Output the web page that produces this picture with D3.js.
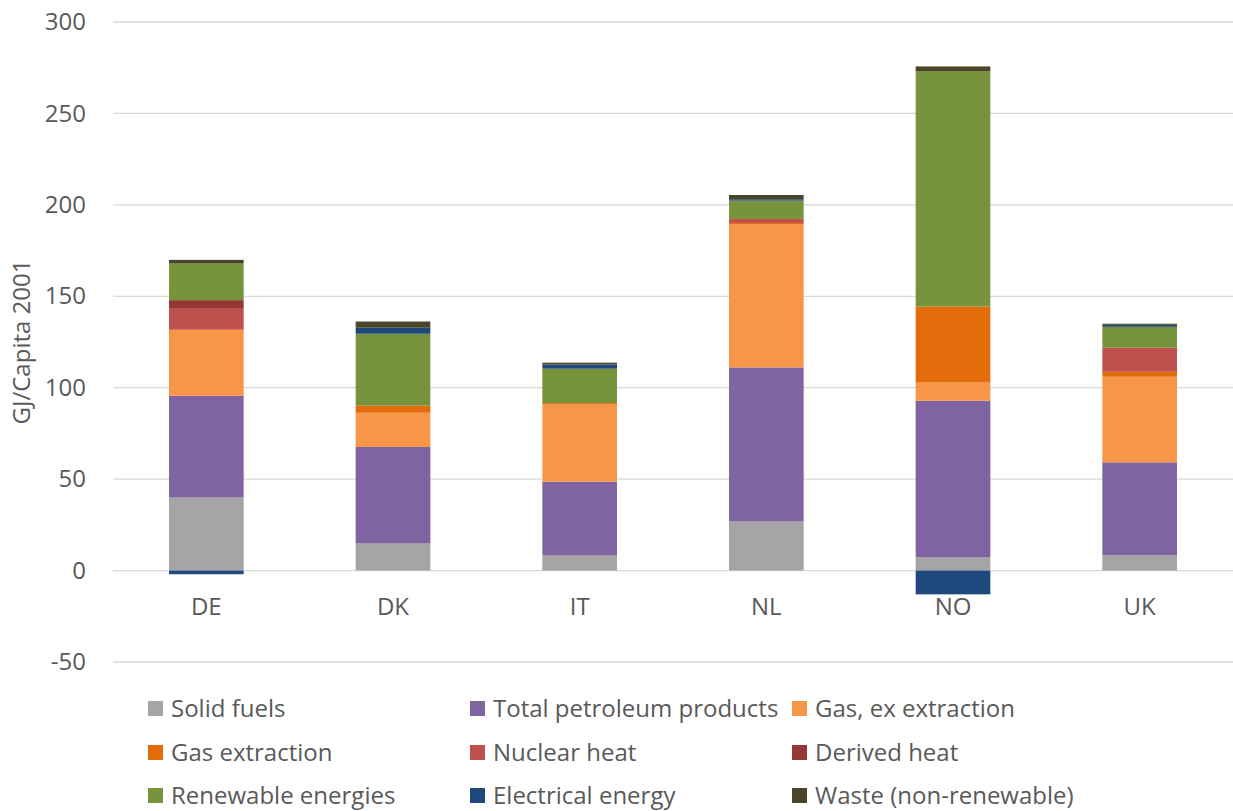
<!DOCTYPE html>
<html>
<head>
<meta charset="utf-8">
<script src="https://cdn.jsdelivr.net/npm/d3@7"></script>
<style>
  html, body { margin: 0; padding: 0; background: #ffffff; }
  svg { display: block; }
  text { font-family: "Open Sans", "Noto Sans", sans-serif; fill: #595959; }
</style>
</head>
<body>
<svg id="chart" width="1233" height="811"></svg>
<script>
// Countries along the x axis
const countries = ["DE", "DK", "IT", "NL", "NO", "UK"];

// Energy carriers, stacked bottom to top
const carriers = [
  "Solid fuels", "Total petroleum products", "Gas, ex extraction",
  "Gas extraction", "Nuclear heat", "Derived heat",
  "Renewable energies", "Electrical energy", "Waste (non-renewable)"
];
const carrierColors = [
  "#A5A5A5", "#8064A2", "#F79646",
  "#E46C0A", "#C0504D", "#953735",
  "#77933C", "#1F497D", "#4A452A"
];

// GJ per capita, 2001 — one array per carrier, in country order
const solidFuels       = [39.9, 14.8,  8.2, 26.8,   7.2,  8.4];
const petroleum        = [55.7, 52.8, 40.4, 84.3,  85.7, 50.8];
const gasExExtraction  = [36.1, 18.7, 42.5, 78.1,   9.9, 46.8];
const gasExtraction    = [ 0.0,  3.9,  0.5,  0.9,  41.6,  2.7];
const nuclearHeat      = [11.5,  0.0,  0.0,  2.2,   0.0, 13.2];
const derivedHeat      = [ 4.7,  0.0,  0.0,  0.0,   0.0,  0.0];
const renewables       = [20.0, 39.3, 18.8, 10.0, 128.8, 11.4];
const electrical       = [-2.0,  3.3,  2.3,  0.8, -13.0,  1.1];
const waste            = [ 2.0,  3.4,  1.0,  2.3,   2.5,  0.6];

const seriesValues = [
  solidFuels, petroleum, gasExExtraction, gasExtraction,
  nuclearHeat, derivedHeat, renewables, electrical, waste
];

const yTicks = [-50, 0, 50, 100, 150, 200, 250, 300];
const yTitle = "GJ/Capita 2001";

// Rows for d3.stack
const rows = countries.map((c, i) => {
  const r = { country: c };
  carriers.forEach((k, j) => { r[k] = seriesValues[j][i]; });
  return r;
});

const svg = d3.select("#chart");
const plot = { left: 113, right: 1233, top: 22, bottom: 662 };

const x = d3.scaleBand()
  .domain(countries)
  .range([plot.left, plot.right])
  .paddingInner(0.6)
  .paddingOuter(0.3);

const y = d3.scaleLinear()
  .domain([-50, 300])
  .range([plot.bottom, plot.top]);

// Horizontal gridlines
svg.append("g")
  .selectAll("line")
  .data(yTicks)
  .join("line")
  .attr("x1", plot.left)
  .attr("x2", plot.right)
  .attr("y1", d => y(d))
  .attr("y2", d => y(d))
  .attr("stroke", "#d9d9d9")
  .attr("stroke-width", 1.3);

// Y axis tick labels (plain hyphen for negatives)
const yAxis = d3.axisLeft(y)
  .tickValues(yTicks)
  .tickFormat(d => String(d))
  .tickSize(0)
  .tickPadding(0);
const yg = svg.append("g")
  .attr("transform", "translate(86,0)")
  .call(yAxis);
yg.select(".domain").remove();
yg.selectAll("text")
  .attr("font-size", 24)
  .attr("fill", "#595959")
  .style("font-family", "'Open Sans', sans-serif");

// Stacked bars (negatives stacked below zero)
const stack = d3.stack()
  .keys(carriers)
  .offset(d3.stackOffsetDiverging);
const stacked = stack(rows);

svg.append("g")
  .selectAll("g")
  .data(stacked)
  .join("g")
  .attr("fill", (d, i) => carrierColors[i])
  .selectAll("rect")
  .data(d => d)
  .join("rect")
  .attr("x", d => x(d.data.country))
  .attr("width", x.bandwidth())
  .attr("y", d => y(Math.max(d[0], d[1])))
  .attr("height", d => Math.abs(y(d[0]) - y(d[1])));

// Category labels under the zero line
const xAxis = d3.axisBottom(x).tickSize(0).tickPadding(0);
const xg = svg.append("g")
  .attr("transform", `translate(0,${y(0) + 36})`)
  .call(xAxis);
xg.select(".domain").remove();
xg.selectAll("text")
  .attr("font-size", 24)
  .attr("fill", "#595959")
  .attr("dy", "0.35em")
  .attr("y", 0)
  .style("font-family", "'Open Sans', sans-serif");

// Y axis title
svg.append("text")
  .attr("transform", `translate(30,${(plot.top + plot.bottom) / 2}) rotate(-90)`)
  .attr("text-anchor", "middle")
  .attr("font-size", 24)
  .text(yTitle);

// Legend: three columns, three rows
const legend = svg.append("g");
const colX = [148, 470, 792];
const rowY = [708.5, 752.5, 795.5];
carriers.forEach((name, i) => {
  const cx = colX[i % 3];
  const cy = rowY[Math.floor(i / 3)];
  legend.append("rect")
    .attr("x", cx)
    .attr("y", cy - 7.5)
    .attr("width", 15)
    .attr("height", 15)
    .attr("fill", carrierColors[i]);
  legend.append("text")
    .attr("x", cx + 23)
    .attr("y", cy)
    .attr("dy", "0.35em")
    .attr("font-size", 24)
    .text(name);
});
</script>
</body>
</html>
